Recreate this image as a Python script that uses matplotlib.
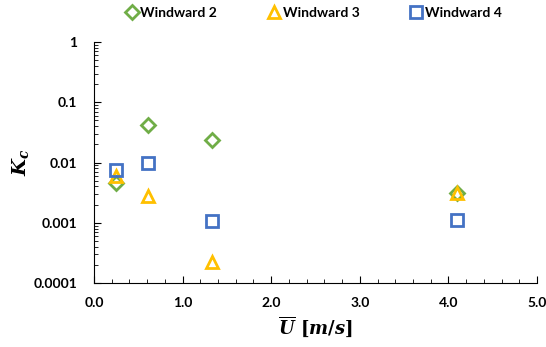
import matplotlib
matplotlib.use("Agg")
import matplotlib.pyplot as plt
from matplotlib.ticker import MultipleLocator, LogLocator, FixedLocator, NullFormatter

# data
x_pts = [0.25, 0.61, 1.33, 4.10]
kc_w2 = [0.0045, 0.042, 0.024, 0.0031]
kc_w3 = [0.0060, 0.0028, 0.00022, 0.0031]
kc_w4 = [0.0075, 0.0098, 0.00105, 0.00112]
y_ticks = [0.0001, 0.001, 0.01, 0.1, 1]
y_labels = ['0.0001', '0.001', '0.01', '0.1', '1']

plt.rcParams['font.family'] = ['Lato', 'DejaVu Sans']
plt.rcParams['font.weight'] = 'bold'
plt.rcParams['mathtext.fontset'] = 'custom'
plt.rcParams['mathtext.it'] = 'DejaVu Serif:italic:bold'
plt.rcParams['mathtext.rm'] = 'DejaVu Serif:bold'

fig = plt.figure(figsize=(5.46, 3.47), dpi=100)
ax = fig.add_axes([94 / 546, 1 - 283 / 347, 443 / 546, 241 / 347])

ms = 8
ax.plot(x_pts, kc_w2, 'D', ms=ms - 1, mfc='none', mec='#70AD47', mew=2, label='Windward 2')
ax.plot(x_pts, kc_w3, '^', ms=ms, mfc='none', mec='#FFC000', mew=2, label='Windward 3')
ax.plot(x_pts, kc_w4, 's', ms=ms, mfc='none', mec='#4472C4', mew=2, label='Windward 4')

ax.set_yscale('log')
ax.set_ylim(0.0001, 1)
ax.set_xlim(0, 5)
ax.yaxis.set_major_locator(FixedLocator(y_ticks))
ax.set_yticklabels(y_labels)
ax.yaxis.set_minor_locator(LogLocator(base=10, subs=range(2, 10)))
ax.yaxis.set_minor_formatter(NullFormatter())
ax.xaxis.set_minor_locator(MultipleLocator(0.2))
ax.set_xticks([0, 1, 2, 3, 4, 5])
ax.set_xticklabels(['0.0', '1.0', '2.0', '3.0', '4.0', '5.0'])

for s in ['top', 'right']:
    ax.spines[s].set_visible(False)
ax.tick_params(which='both', direction='in', labelsize=10)
ax.tick_params(which='major', length=5)
ax.tick_params(which='minor', length=3)
ax.tick_params(axis='x', pad=10)
ax.tick_params(axis='y', pad=12)

ax.set_xlabel(r'$\overline{U}\ [m/s]$', fontsize=13)
ax.set_ylabel(r'$K_c$', fontsize=14)
ax.yaxis.set_label_coords(-0.143, 0.5)

ax.legend(loc='center', bbox_to_anchor=(0.495, 1.12), ncol=3, frameon=False,
          fontsize=10, handletextpad=0.1, columnspacing=3.6, handlelength=1)

fig.savefig('out.png', dpi=100)
